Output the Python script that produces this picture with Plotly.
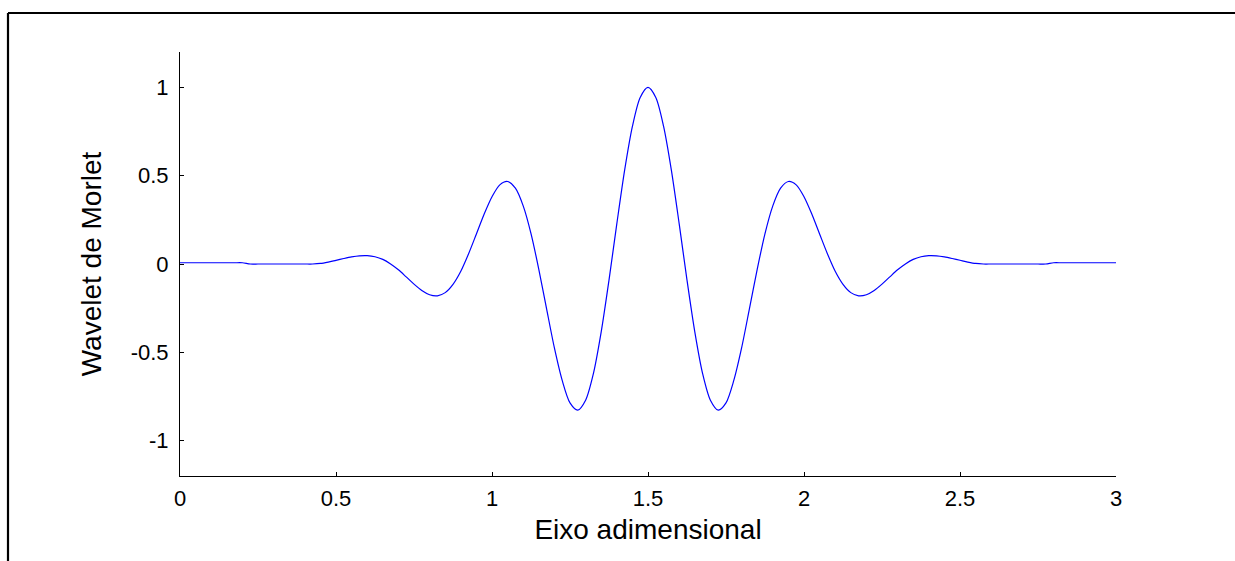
import plotly.graph_objects as go

# Sample positions along the dimensionless axis
x_vals = [
    0.000, 0.025, 0.050, 0.075, 0.100, 0.125, 0.150, 0.175, 0.200, 0.225,
    0.250, 0.275, 0.300, 0.325, 0.350, 0.375, 0.400, 0.425, 0.450, 0.475,
    0.500, 0.525, 0.550, 0.575, 0.600, 0.625, 0.650, 0.675, 0.700, 0.725,
    0.750, 0.775, 0.800, 0.825, 0.850, 0.875, 0.900, 0.925, 0.950, 0.975,
    1.000, 1.025, 1.050, 1.075, 1.100, 1.125, 1.150, 1.175, 1.200, 1.225,
    1.250, 1.275, 1.300, 1.325, 1.350, 1.375, 1.400, 1.425, 1.450, 1.475,
    1.500, 1.525, 1.550, 1.575, 1.600, 1.625, 1.650, 1.675, 1.700, 1.725,
    1.750, 1.775, 1.800, 1.825, 1.850, 1.875, 1.900, 1.925, 1.950, 1.975,
    2.000, 2.025, 2.050, 2.075, 2.100, 2.125, 2.150, 2.175, 2.200, 2.225,
    2.250, 2.275, 2.300, 2.325, 2.350, 2.375, 2.400, 2.425, 2.450, 2.475,
    2.500, 2.525, 2.550, 2.575, 2.600, 2.625, 2.650, 2.675, 2.700, 2.725,
    2.750, 2.775, 2.800, 2.825, 2.850, 2.875, 2.900, 2.925, 2.950, 2.975,
    3.000,
]

# Morlet wavelet values
y_vals = [
    0.007, 0.007, 0.007, 0.007, 0.007, 0.007, 0.007, 0.007, 0.007, 0.000,
    0.000, 0.000, 0.000, 0.000, 0.000, 0.000, 0.000, 0.000, 0.003, 0.011,
    0.021, 0.031, 0.040, 0.046, 0.047, 0.041, 0.026, 0.000, -0.033, -0.073,
    -0.114, -0.150, -0.174, -0.180, -0.162, -0.115, -0.041, 0.058, 0.170, 0.283,
    0.381, 0.448, 0.467, 0.429, 0.329, 0.172, -0.030, -0.254, -0.475, -0.659,
    -0.786, -0.827, -0.771, -0.620, -0.384, -0.091, 0.227, 0.530, 0.779, 0.943,
    1.000,
    0.943, 0.779, 0.530, 0.227, -0.091, -0.384, -0.620, -0.771, -0.827,
    -0.786, -0.659, -0.475, -0.254, -0.030, 0.172, 0.329, 0.429, 0.467, 0.448,
    0.381, 0.283, 0.170, 0.058, -0.041, -0.115, -0.162, -0.180, -0.174, -0.150,
    -0.114, -0.073, -0.033, 0.000, 0.026, 0.041, 0.047, 0.046, 0.040, 0.031,
    0.021, 0.011, 0.003, 0.000, 0.000, 0.000, 0.000, 0.000, 0.000, 0.000,
    0.000, 0.000, 0.007, 0.007, 0.007, 0.007, 0.007, 0.007, 0.007, 0.007,
    0.007,
]

x_ticks = [0, 0.5, 1, 1.5, 2, 2.5, 3]
x_tick_text = ["0", "0.5", "1", "1.5", "2", "2.5", "3"]
y_ticks = [-1.2, -1, -0.5, 0, 0.5, 1, 1.2]
y_tick_text = ["", "-1", "-0.5", "0", "0.5", "1", ""]

x_title = "Eixo adimensional"
y_title = "Wavelet de Morlet"

FONT = "Arial, Liberation Sans, sans-serif"

fig = go.Figure()
fig.add_trace(go.Scatter(
    x=x_vals, y=y_vals, mode="lines",
    line=dict(color="#0000ff", width=1.2, shape="spline", smoothing=0.8),
    showlegend=False, hoverinfo="skip",
))

W, H = 1235, 561
L, R, T, B = 180, 119, 52, 85
pw, ph = W - L - R, H - T - B

def px_to_paper_x(px):
    return (px - L) / pw

def px_to_paper_y(py):
    return (H - B - py) / ph

# outer frame (top and left edges visible, the rest is cropped)
fig.add_shape(type="line", xref="paper", yref="paper",
              x0=px_to_paper_x(8), x1=px_to_paper_x(1240),
              y0=px_to_paper_y(13), y1=px_to_paper_y(13),
              line=dict(color="black", width=2.2))
fig.add_shape(type="line", xref="paper", yref="paper",
              x0=px_to_paper_x(8), x1=px_to_paper_x(8),
              y0=px_to_paper_y(13), y1=px_to_paper_y(570),
              line=dict(color="black", width=2.2))

axis_common = dict(
    showgrid=False, zeroline=False, showline=True, linecolor="black",
    linewidth=1, ticks="inside", ticklen=4, tickcolor="black", tickwidth=1,
    mirror=False, tickfont=dict(family=FONT, size=22, color="black"),
)

fig.update_layout(
    width=W, height=H,
    margin=dict(l=L, r=R, t=T, b=B, autoexpand=False),
    paper_bgcolor="white", plot_bgcolor="white",
    font=dict(family=FONT, color="black"),
    xaxis=dict(range=[0, 3], tickvals=x_ticks, ticktext=x_tick_text,
               ticklabelstandoff=3,
               title=dict(text=x_title, font=dict(family=FONT, size=28), standoff=8),
               **axis_common),
    yaxis=dict(range=[-1.2, 1.2], tickvals=y_ticks, ticktext=y_tick_text,
               ticklabelstandoff=6,
               title=dict(text=y_title, font=dict(family=FONT, size=28), standoff=20),
               **axis_common),
)

fig.write_html("out.html")
